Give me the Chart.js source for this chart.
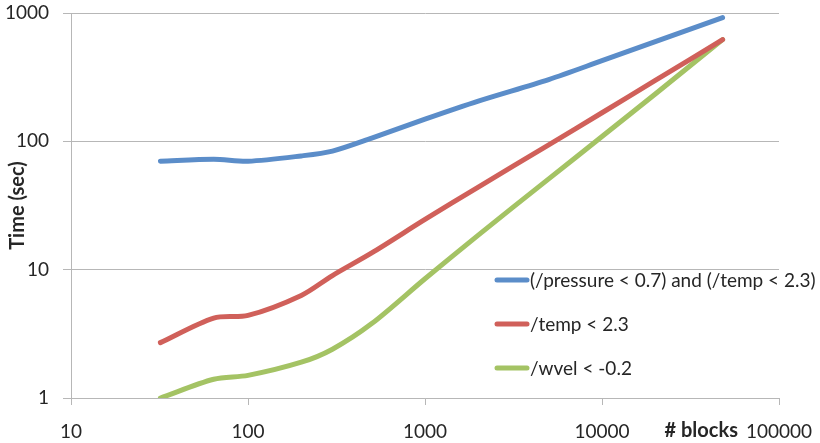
<!DOCTYPE html>
<html>
<head>
<meta charset="utf-8">
<script src="https://cdn.jsdelivr.net/npm/chart.js@4/dist/chart.umd.min.js"></script>
<style>
  html, body { margin: 0; padding: 0; background: #ffffff; }
  #wrap { width: 820px; height: 443px; position: relative; }
</style>
</head>
<body>
<div id="wrap"><canvas id="chart" width="820" height="443"></canvas></div>
<script>
// Query run time versus number of blocks (log-log)
const blocks = [32, 64, 100, 200, 300, 500, 1000, 2000, 5000, 10000, 20000, 48000];
const seriesNames = ['(/pressure < 0.7) and (/temp < 2.3)', '/temp < 2.3', '/wvel < -0.2'];
const pressureAndTemp = [70, 72.5, 70, 77, 84, 106, 149, 206, 303, 425, 598, 920];
const tempOnly = [2.7, 4.2, 4.4, 6.3, 9.0, 13.5, 24.6, 44, 94, 167, 298, 620];
const wvelOnly = [1.0, 1.4, 1.5, 1.9, 2.4, 3.8, 8.5, 18.6, 51, 109, 234, 620];
const xTickValues = [10, 100, 1000, 10000, 100000];
const yTickValues = [1, 10, 100, 1000];
const xTitle = '# blocks';
const yTitle = 'Time (sec)';

const colors = ['#5B8DC9', '#D0605A', '#A4C364'];
const FONT = 'Lato, "Open Sans", sans-serif';
const TEXT = '#262626';
const GRID = '#b7b7b7';

const toPoints = (vals) => blocks.map((b, i) => ({ x: b, y: vals[i] }));

// Scales report no extra label overhang, so the layout padding alone places the plot area
const noOverhang = (s) => {
  s.paddingTop = 0; s.paddingBottom = 0; s.paddingLeft = 0; s.paddingRight = 0;
};

// Legend drawn inside the plot area, lower right
const insideLegend = {
  id: 'insideLegend',
  afterDatasetsDraw(chart) {
    const { ctx, chartArea } = chart;
    const x0 = chartArea.right - 282;
    const y0 = chartArea.top + 267;
    const gap = 44;
    ctx.save();
    ctx.font = '19px ' + FONT;
    ctx.textBaseline = 'middle';
    ctx.textAlign = 'left';
    chart.data.datasets.forEach((ds, i) => {
      const y = y0 + i * gap;
      ctx.strokeStyle = ds.borderColor;
      ctx.lineWidth = 5;
      ctx.lineCap = 'round';
      ctx.beginPath();
      ctx.moveTo(x0, y);
      ctx.lineTo(x0 + 30, y);
      ctx.stroke();
      ctx.fillStyle = TEXT;
      ctx.fillText(ds.label, x0 + 33, y + 1);
    });
    ctx.restore();
  }
};

// Axis titles: rotated y title, and x title sitting left of the last tick label
const axisTitles = {
  id: 'axisTitles',
  afterDraw(chart) {
    const { ctx, chartArea, scales } = chart;
    ctx.save();
    ctx.fillStyle = TEXT;
    ctx.font = 'bold 20px ' + FONT;
    ctx.textBaseline = 'middle';
    ctx.translate(18, (chartArea.top + chartArea.bottom) / 2);
    ctx.rotate(-Math.PI / 2);
    ctx.textAlign = 'center';
    ctx.fillText(yTitle, 0, 0);
    ctx.restore();

    ctx.save();
    ctx.font = '19px ' + FONT;
    const lastW = ctx.measureText(String(xTickValues[xTickValues.length - 1])).width;
    const px = scales.x.getPixelForValue(xTickValues[xTickValues.length - 1]);
    ctx.font = 'bold 20px ' + FONT;
    ctx.fillStyle = TEXT;
    ctx.textAlign = 'right';
    ctx.textBaseline = 'middle';
    ctx.fillText(xTitle, px - lastW / 2 - 8, chartArea.bottom + 33);
    ctx.restore();
  }
};

new Chart(document.getElementById('chart'), {
  type: 'line',
  data: {
    datasets: [
      { label: seriesNames[0], data: toPoints(pressureAndTemp), borderColor: colors[0] },
      { label: seriesNames[1], data: toPoints(tempOnly), borderColor: colors[1] },
      { label: seriesNames[2], data: toPoints(wvelOnly), borderColor: colors[2] }
    ].map(d => Object.assign(d, {
      borderWidth: 5,
      pointRadius: 0,
      fill: false,
      tension: 0.3,
      borderCapStyle: 'round',
      borderJoinStyle: 'round'
    }))
  },
  options: {
    responsive: false,
    animation: false,
    layout: { padding: { top: 13, right: 41, left: 0, bottom: 0 } },
    plugins: { legend: { display: false }, tooltip: { enabled: false } },
    scales: {
      x: {
        type: 'logarithmic',
        min: 10,
        max: 100000,
        afterBuildTicks: (s) => { s.ticks = xTickValues.map(v => ({ value: v })); },
        afterFit: (s) => { s.height = 45; noOverhang(s); },
        ticks: {
          autoSkip: false,
          maxRotation: 0,
          padding: 15,
          color: TEXT,
          font: { family: FONT, size: 19 },
          callback: (v) => String(v)
        },
        grid: { drawOnChartArea: false, drawTicks: true, tickLength: 7, color: GRID, lineWidth: 1 },
        border: { display: true, color: GRID, width: 1 }
      },
      y: {
        type: 'logarithmic',
        min: 1,
        max: 1000,
        afterBuildTicks: (s) => { s.ticks = yTickValues.map(v => ({ value: v })); },
        afterFit: (s) => { s.width = 71; noOverhang(s); },
        ticks: {
          autoSkip: false,
          padding: 14,
          color: TEXT,
          font: { family: FONT, size: 19 },
          callback: (v) => String(v)
        },
        grid: { drawTicks: true, tickLength: 8, color: GRID, lineWidth: 1 },
        border: { display: true, color: GRID, width: 1 }
      }
    }
  },
  plugins: [insideLegend, axisTitles]
});
</script>
</body>
</html>
